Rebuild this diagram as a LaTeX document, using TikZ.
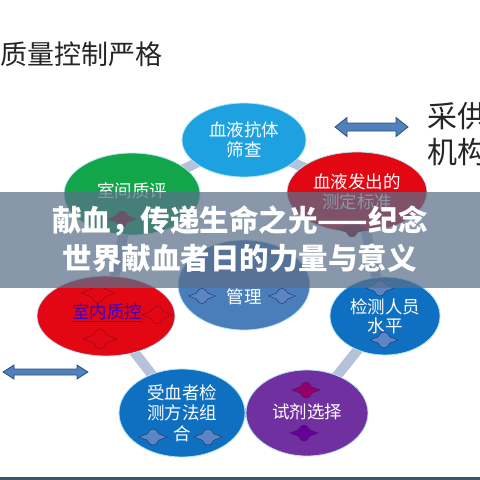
\documentclass[tikz,border=0pt]{standalone}
\usepackage{fontspec}
\setmainfont{Noto Sans CJK SC}
\usetikzlibrary{shapes.geometric,backgrounds}

\definecolor{skyblue}{HTML}{1EA1E1}
\definecolor{bloodred}{HTML}{E30613}
\definecolor{qcgreen}{HTML}{12A54A}
\definecolor{mgmtblue}{HTML}{4A7EBB}
\definecolor{deepblue}{HTML}{0F6FC0}
\definecolor{reagentpurple}{HTML}{7030A0}
\definecolor{linkgray}{HTML}{B6C2D9}
\definecolor{arrowblue}{HTML}{4F81BD}
\definecolor{arrowedge}{HTML}{2F4F7A}
\definecolor{bannerslate}{HTML}{5B708A}
\definecolor{barslate}{HTML}{3B546E}
\definecolor{ornblue}{HTML}{5B85C4}
\definecolor{ornnavy}{HTML}{1B2F5E}
\definecolor{ornmaroon}{HTML}{7A1020}

\tikzset{
  bubble/.style={ellipse, draw=white!70!cyan, line width=0.8pt, text=white, align=center,
    inner sep=0pt, font=\fontsize{17.5}{20.5}\selectfont},
  bubbletext/.style={text=white, align=center, inner sep=0pt, font=\fontsize{17.5}{20.5}\selectfont},
  link/.style={line width=10pt, linkgray},
  dblarrow/.style={fill=arrowblue, draw=arrowedge, line width=0.8pt},
  orn/.pic={\path[pic actions] (-14,0) -- (-9,-2) -- (-6,-3) -- (-3,-7) -- (0,-8) -- (3,-7) -- (6,-3)
    -- (9,-2) -- (14,0) -- (9,2) -- (6,3) -- (3,7) -- (0,8) -- (-3,7) -- (-6,3) -- (-9,2) -- cycle;},
}

\begin{document}
\begin{tikzpicture}[x=1pt, y=-1pt]
\useasboundingbox (0,0) rectangle (480,480);

% headings
\node[anchor=east, text=black!85, font=\fontsize{27}{27}\selectfont] (quality) at (166,54) {质量控制严格};
\node[anchor=north west, align=left, text=black!85, font=\fontsize{30}{36}\selectfont] (agency) at (424,99) {采供\\机构};

% ring of ellipses
\node[bubble, fill=skyblue, minimum width=124pt, minimum height=74pt] (screen) at (244,140) {血液抗体\\筛查};
\node[bubble, fill=bloodred, minimum width=140pt, minimum height=80pt] (issue) at (357,192) {血液发出的\\测定标准};
\node[bubble, fill=qcgreen, minimum width=136pt, minimum height=82pt] (eqa) at (132,194) {};
\node[bubble, fill=mgmtblue, minimum width=132pt, minimum height=90pt] (mgmt) at (244,285) {};
\node[bubble, fill=bloodred, minimum width=138pt, minimum height=80pt] (iqc) at (106,316) {};
\node[bubble, fill=deepblue, minimum width=110pt, minimum height=78pt,
  font=\fontsize{17.5}{19}\selectfont] (staff) at (385,316) {检测人员\\水平};
\node[bubble, fill=deepblue, minimum width=126pt, minimum height=88pt] (method) at (182,413) {};
\node[bubble, fill=reagentpurple, minimum width=122pt, minimum height=86pt] (reagent) at (307,413) {};

% connectors behind
\begin{scope}[on background layer]
\fill[white] (0,0) rectangle (480,480);
\draw[link] (screen.center) -- (issue.center);
\draw[link] (screen.center) -- (eqa.center);
\draw[link] (issue.center) -- (staff.center);
\draw[link] (staff.center) -- (reagent.center);
\draw[link] (reagent.center) -- (method.center);
\draw[link] (method.center) -- (iqc.center);
\draw[link] (iqc.center) -- (eqa.center);
\end{scope}

% texts
\node[bubbletext] (eqaT) at (132,191) {室间质评};
\node[bubbletext] (mgmtT) at (244,297) {管理};
\node[bubbletext, text=blue!60!violet] (iqcT) at (107,313) {\underline{室内质控}};
\node[bubbletext] (methodT) at (182,413) {受血者检\\测方法组\\合};
\node[bubbletext] (reagentT) at (307,412) {试剂选择};

% ornaments
\pic[fill=ornmaroon!80!red, draw=ornmaroon] at (122,219) {orn};
\pic[fill=ornmaroon!80!red, draw=ornmaroon] at (352,229) {orn};
\pic[fill=ornblue, draw=ornnavy, scale=0.95] at (202,296) {orn};
\pic[fill=ornblue, draw=ornnavy, scale=0.95] at (282,296) {orn};
\pic[fill=bloodred, draw=ornmaroon, scale=1.2] at (98,293) {orn};
\pic[fill=bloodred, draw=ornmaroon, scale=1.1] at (157,315) {orn};
\pic[fill=bloodred, draw=ornmaroon, scale=1.2] at (100,339) {orn};
\pic[fill=ornblue, draw=ornnavy] at (153,437) {orn};
\pic[fill=ornblue, draw=ornnavy] at (208,437) {orn};
\pic[fill=ornblue, draw=ornnavy] at (380,288) {orn};
\pic[fill=ornblue, draw=ornnavy] at (384,340) {orn};
\pic[fill=violet!70!purple, draw=reagentpurple!60!black] at (306,390) {orn};
\pic[fill=violet!80!blue, draw=reagentpurple!60!black] at (304,433) {orn};

% double arrows
\draw[dblarrow] (335,127) -- (347,117.5) -- (347,123) -- (396,123) -- (396,117.5) -- (408,127)
  -- (396,136.5) -- (396,131) -- (347,131) -- (347,136.5) -- cycle;
\draw[dblarrow] (3,372) -- (14,365) -- (14,369) -- (77,369) -- (77,365) -- (88,372)
  -- (77,379) -- (77,375) -- (14,375) -- (14,379) -- cycle;

% banner
\fill[bannerslate, opacity=0.72] (0,192) rectangle (480,288);
\node[text=white, font=\bfseries\fontsize{29.5}{29.5}\selectfont] (title1) at (240,221) {献血，传递生命之光——纪念};
\node[text=white, font=\bfseries\fontsize{29.5}{29.5}\selectfont] (title2) at (240,258) {世界献血者日的力量与意义};

% bottom bar
\fill[barslate] (0,477) rectangle (480,480);
\end{tikzpicture}
\end{document}
